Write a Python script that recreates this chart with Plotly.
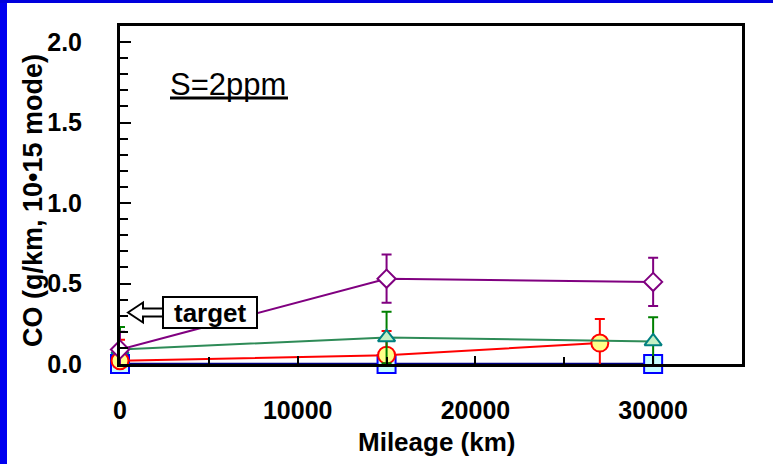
import plotly.graph_objects as go

# ---------------- data ----------------
mileage_sq = [0, 15000, 30000]
co_sq = [0.0, 0.0, 0.0]
err_sq = [0.02, 0.02, 0.02]

mileage_ci = [0, 15000, 27000]
co_ci = [0.02, 0.055, 0.13]
err_ci = [0.13, 0.15, 0.15]

mileage_tr = [0, 15000, 30000]
co_tr = [0.09, 0.165, 0.14]
err_tr = [0.14, 0.16, 0.15]

mileage_di = [0, 15000, 30000]
co_di = [0.09, 0.53, 0.51]
err_di = [0.11, 0.15, 0.15]

TARGET = 0.32
x_ticks = [0, 10000, 20000, 30000]
y_ticks = [0.0, 0.5, 1.0, 1.5, 2.0]

# ---------------- layout geometry ----------------
W, H = 773, 464
L, R, T, B = 120, 742, 26, 364
XR = [0, 35000]
YR = [0, 2.1]


def xp(p):
    return (p - L) / (R - L)


def yp(p):
    return (B - p) / (B - T)


def dy(pix):
    return pix * (YR[1] - YR[0]) / (B - T)


FONT = "Arial, Liberation Sans, Helvetica, sans-serif"

fig = go.Figure()

fig.add_trace(go.Scatter(
    x=mileage_sq, y=co_sq, mode="lines+markers",
    line=dict(color="#000080", width=2.5),
    marker=dict(symbol="square", size=18, color="#c8ffff",
                line=dict(color="#0000ff", width=2)),
    error_y=dict(type="data", array=err_sq, color="#0000ff", thickness=2, width=5),
    cliponaxis=False, showlegend=False))

fig.add_trace(go.Scatter(
    x=mileage_ci, y=co_ci, mode="lines+markers",
    line=dict(color="#ff0000", width=2),
    marker=dict(symbol="circle", size=17, color="#ffff88",
                line=dict(color="#ff0000", width=2)),
    error_y=dict(type="data", array=err_ci, color="#ff0000", thickness=2, width=5),
    cliponaxis=False, showlegend=False))

fig.add_trace(go.Scatter(
    x=mileage_tr, y=co_tr, mode="lines+markers",
    line=dict(color="#2e8b57", width=2),
    marker=dict(symbol="triangle-up", size=15, color="#c4f0c4",
                line=dict(color="#008080", width=2)),
    error_y=dict(type="data", array=err_tr, color="#008000", thickness=2, width=5),
    cliponaxis=False, showlegend=False))

fig.add_trace(go.Scatter(
    x=mileage_di, y=co_di, mode="lines+markers",
    line=dict(color="#800080", width=2),
    marker=dict(symbol="diamond", size=14, color="#ffffff",
                line=dict(color="#800080", width=2)),
    error_y=dict(type="data", array=err_di, color="#800080", thickness=2, width=5),
    cliponaxis=False, showlegend=False))

shapes = [
    # blue frame stripes
    dict(type="rect", xref="paper", yref="paper", x0=xp(0), x1=xp(7), y0=yp(H), y1=yp(0),
         fillcolor="#0000f0", line=dict(width=0), layer="above"),
    dict(type="rect", xref="paper", yref="paper", x0=xp(0), x1=xp(W), y0=yp(3), y1=yp(0),
         fillcolor="#0000dd", line=dict(width=0), layer="above"),
    # underline of the "S=2ppm" label
    dict(type="line", xref="paper", yref="paper", x0=xp(170), x1=xp(288), y0=yp(98), y1=yp(98),
         line=dict(color="black", width=3)),
]

# hollow arrow pointing at target level
tipx = xp(128)
hx = xp(143)
ex = xp(165)
path = (f"M {tipx},{TARGET} L {hx},{TARGET + dy(10)} L {hx},{TARGET + dy(4)} "
        f"L {ex},{TARGET + dy(4)} L {ex},{TARGET - dy(4)} L {hx},{TARGET - dy(4)} "
        f"L {hx},{TARGET - dy(10)} Z")
shapes.append(dict(type="path", xref="paper", yref="y", path=path,
                   fillcolor="white", line=dict(color="black", width=2)))
# box for "target"
shapes.append(dict(type="rect", xref="paper", yref="y",
                   x0=xp(163), x1=xp(257), y0=TARGET - dy(15.5), y1=TARGET + dy(15.5),
                   fillcolor="white", line=dict(color="black", width=2)))

annotations = [
    dict(text="target", xref="paper", yref="y", x=xp(210), y=TARGET,
         xanchor="center", yanchor="middle", showarrow=False,
         font=dict(family=FONT, size=26, color="black", weight="bold")),
    dict(text="S=2ppm", xref="paper", yref="paper", x=xp(168), y=yp(84),
         xanchor="left", yanchor="middle", showarrow=False,
         font=dict(family=FONT, size=31, color="black")),
    dict(text="Mileage (km)", xref="paper", yref="paper", x=xp(437), y=yp(442),
         xanchor="center", yanchor="middle", showarrow=False,
         font=dict(family=FONT, size=26, color="black", weight="bold")),
    dict(text="CO (g/km, 10\u202215 mode)", xref="paper", yref="paper", x=xp(33), y=yp(201),
         xanchor="center", yanchor="middle", showarrow=False, textangle=-90,
         font=dict(family=FONT, size=27, color="black", weight="bold")),
]

fig.update_layout(
    width=W, height=H,
    margin=dict(l=L, r=W - R, t=T, b=H - B, pad=0),
    paper_bgcolor="white", plot_bgcolor="white",
    shapes=shapes, annotations=annotations,
    font=dict(family=FONT, color="black"),
)

fig.update_xaxes(
    range=XR, tickvals=x_ticks, ticktext=[str(v) for v in x_ticks],
    ticks="inside", ticklen=8, tickwidth=2, tickcolor="black",
    minor=dict(dtick=5000, tick0=0, ticks="inside", ticklen=7, tickwidth=2, tickcolor="black"),
    showline=True, linecolor="black", linewidth=3, mirror=True,
    showgrid=False, zeroline=False,
    tickfont=dict(family=FONT, size=25, color="black", weight="bold"),
    ticklabelstandoff=22,
)
fig.update_yaxes(
    range=YR, tickvals=y_ticks, ticktext=[f"{v:.1f}" for v in y_ticks],
    ticks="inside", ticklen=11, tickwidth=2, tickcolor="black",
    minor=dict(dtick=0.1, tick0=0, ticks="inside", ticklen=8, tickwidth=2, tickcolor="black"),
    showline=True, linecolor="black", linewidth=3, mirror=True,
    showgrid=False, zeroline=False,
    tickfont=dict(family=FONT, size=25, color="black", weight="bold"),
    ticklabelstandoff=30,
)

fig.write_html(
    "out.html",
    config={"displayModeBar": False},
    post_script="document.body.style.margin='0';document.body.style.overflow='hidden';",
)
